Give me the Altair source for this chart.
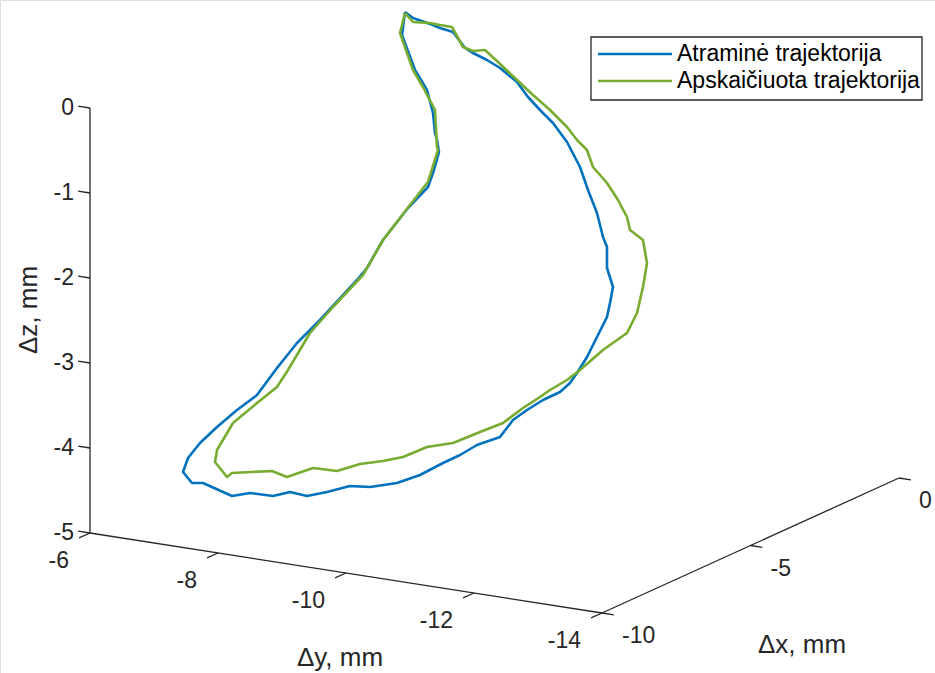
import altair as alt
import pandas as pd

W, H = 935, 673

# ---- axis definitions (3-D data units) ----
x_lim = [-10, 0]
y_lim = [-6, -14]
z_lim = [-5, 0]
x_ticks = [-10, -5, 0]
y_ticks = [-6, -8, -10, -12, -14]
z_ticks = [0, -1, -2, -3, -4, -5]
x_title = "Δx, mm"
y_title = "Δy, mm"
z_title = "Δz, mm"

series_names = ["Atraminė trajektorija", "Apskaičiuota trajektorija"]
series_colors = ["#0072BD", "#77AC30"]

# ---- trajectories, as read from the projected (view-plane) figure ----
ref_h = [405, 413, 433, 440, 453, 465, 473, 487, 500, 517, 528, 540, 553, 567, 580, 588, 597, 603, 607, 607,
         613, 610, 607, 597, 587, 577, 570, 560, 543, 527, 513, 500, 477, 460, 443, 420, 397, 370, 350, 327,
         307, 290, 273, 250, 232, 203, 192, 183, 188, 200, 217, 237, 257, 277, 297, 320, 357, 367, 383, 408,
         428, 434, 439, 437, 435, 433, 427, 415, 402, 405]
ref_v = [12, 18, 25, 28, 32, 48, 53, 60, 68, 82, 97, 110, 123, 142, 167, 190, 213, 237, 247, 268,
         287, 303, 317, 337, 357, 373, 383, 392, 400, 410, 420, 437, 445, 455, 463, 475, 483, 487, 486, 492,
         496, 492, 496, 493, 496, 483, 483, 472, 458, 443, 427, 410, 395, 368, 343, 320, 280, 268, 240, 208,
         187, 170, 152, 140, 133, 113, 90, 70, 35, 12]

est_h = [405, 413, 430, 440, 452, 463, 473, 485, 498, 517, 533, 550, 567, 577, 587, 593, 607, 618, 627, 630,
         643, 647, 643, 637, 627, 603, 580, 567, 550, 540, 523, 503, 480, 453, 427, 403, 383, 360, 337, 313,
         287, 272, 232, 227, 215, 217, 233, 257, 277, 288, 310, 333, 363, 383, 410, 428, 438, 437, 435, 423,
         413, 400, 405]
est_v = [13, 22, 23, 25, 27, 47, 51, 50, 62, 80, 95, 110, 127, 140, 150, 167, 183, 200, 217, 230,
         240, 263, 287, 313, 333, 350, 370, 380, 390, 397, 408, 423, 432, 443, 447, 457, 461, 464, 471, 468,
         477, 471, 473, 477, 462, 450, 423, 403, 387, 370, 333, 307, 275, 240, 205, 182, 150, 147, 110, 87,
         70, 33, 13]

# ---- view (projection of the 3-D box onto the page) ----
ORIGIN = (90.0, 533.0)          # page position of (x=-10, y=-6, z=-5)
EX = (29.7, -13.5)              # page shift per +1 in Δx
EY = (-64.0, -10.0)             # page shift per +1 in Δy
EZ = (0.0, -85.0)               # page shift per +1 in Δz


def proj(x, y, z):
    dx, dy, dz = x - x_lim[0], y - y_lim[0], z - z_lim[0]
    return (ORIGIN[0] + dx * EX[0] + dy * EY[0] + dz * EZ[0],
            ORIGIN[1] + dx * EX[1] + dy * EY[1] + dz * EZ[1])


def unit(v, L):
    n = (v[0] ** 2 + v[1] ** 2) ** 0.5
    return (v[0] / n * L, v[1] / n * L)


TL = 12
segs = []
# axis lines
for a, b in [((x_lim[0], y_lim[0], z_lim[0]), (x_lim[0], y_lim[0], z_lim[1])),
             ((x_lim[0], y_lim[0], z_lim[0]), (x_lim[0], y_lim[1], z_lim[0])),
             ((x_lim[0], y_lim[1], z_lim[0]), (x_lim[1], y_lim[1], z_lim[0]))]:
    p, q = proj(*a), proj(*b)
    segs.append(dict(x1=p[0], y1=p[1], x2=q[0], y2=q[1]))

labels = []
# z ticks (point toward +Δy)
tz = unit(EY, TL)
for z in z_ticks:
    p = proj(x_lim[0], y_lim[0], z)
    segs.append(dict(x1=p[0], y1=p[1], x2=p[0] + tz[0], y2=p[1] + tz[1]))
    labels.append(dict(t=str(z), x=p[0] - 16, y=p[1], al="right"))
# y ticks (point toward -Δx)
ty = unit((-EX[0], -EX[1]), TL)
for y in y_ticks:
    p = proj(x_lim[0], y, z_lim[0])
    segs.append(dict(x1=p[0], y1=p[1], x2=p[0] + ty[0], y2=p[1] + ty[1]))
    labels.append(dict(t=str(y), x=p[0] - 21, y=p[1] + 28, al="right"))
# x ticks (point toward -Δy)
tx = unit((-EY[0], -EY[1]), TL)
for x in x_ticks:
    p = proj(x, y_lim[1], z_lim[0])
    segs.append(dict(x1=p[0], y1=p[1], x2=p[0] + tx[0], y2=p[1] + tx[1]))
    labels.append(dict(t=str(x), x=p[0] + 20, y=p[1] + 23, al="left"))

seg_df = pd.DataFrame(segs)
lab_df = pd.DataFrame(labels)

titles_df = pd.DataFrame([
    dict(t=y_title, x=340, y=658),
    dict(t=x_title, x=802, y=645),
])
ztitle_df = pd.DataFrame([dict(t=z_title, x=29, y=310)])

rows = []
for name, hh, vv in [(series_names[0], ref_h, ref_v), (series_names[1], est_h, est_v)]:
    for i, (a, b) in enumerate(zip(hh, vv)):
        rows.append(dict(series=name, h=a, v=b, i=i))
curve_df = pd.DataFrame(rows)

XS = alt.Scale(domain=[0, W], nice=False, zero=False)
YS = alt.Scale(domain=[H, 0], nice=False, zero=False)
AX = "#262626"
FONT = "Liberation Sans"

axes_layer = alt.Chart(seg_df).mark_rule(color=AX, strokeWidth=1.3).encode(
    x=alt.X("x1:Q", scale=XS, axis=None), y=alt.Y("y1:Q", scale=YS, axis=None),
    x2="x2:Q", y2="y2:Q")


def label_layer(al):
    return alt.Chart(lab_df[lab_df.al == al]).mark_text(
        font=FONT, fontSize=23, color=AX, align=al, baseline="middle").encode(
        x=alt.X("x:Q", scale=XS, axis=None), y=alt.Y("y:Q", scale=YS, axis=None), text="t:N")


titles = alt.Chart(titles_df).mark_text(
    font=FONT, fontSize=26, color=AX, align="center", baseline="middle").encode(
    x=alt.X("x:Q", scale=XS, axis=None), y=alt.Y("y:Q", scale=YS, axis=None), text="t:N")
ztitle = alt.Chart(ztitle_df).mark_text(
    font=FONT, fontSize=26, color=AX, align="center", baseline="middle", angle=270).encode(
    x=alt.X("x:Q", scale=XS, axis=None), y=alt.Y("y:Q", scale=YS, axis=None), text="t:N")

color = alt.Color("series:N", scale=alt.Scale(domain=series_names, range=series_colors), legend=None)

curves = alt.Chart(curve_df).mark_line(strokeWidth=2.6, strokeJoin="round").encode(
    x=alt.X("h:Q", scale=XS, axis=None), y=alt.Y("v:Q", scale=YS, axis=None),
    color=color, order="i:Q")

# ---- legend box ----
leg_box = pd.DataFrame([dict(x1=591, x2=922, y1=37, y2=100)])
leg_items = pd.DataFrame([
    dict(series=series_names[0], x1=598, x2=672, y=54, tx=677),
    dict(series=series_names[1], x1=598, x2=672, y=81, tx=677),
])
legend_rect = alt.Chart(leg_box).mark_rect(fill="white", stroke=AX, strokeWidth=1.3).encode(
    x=alt.X("x1:Q", scale=XS, axis=None), x2="x2:Q",
    y=alt.Y("y1:Q", scale=YS, axis=None), y2="y2:Q")
legend_lines = alt.Chart(leg_items).mark_rule(strokeWidth=2.6).encode(
    x=alt.X("x1:Q", scale=XS, axis=None), x2="x2:Q",
    y=alt.Y("y:Q", scale=YS, axis=None), color=color)
legend_text = alt.Chart(leg_items).mark_text(
    font=FONT, fontSize=23, color="#000000", align="left", baseline="middle").encode(
    x=alt.X("tx:Q", scale=XS, axis=None), y=alt.Y("y:Q", scale=YS, axis=None), text="series:N")

chart = alt.layer(
    axes_layer, label_layer("right"), label_layer("left"), titles, ztitle, curves,
    legend_rect, legend_lines, legend_text
).properties(
    width=W, height=H, padding=0, autosize="none"
).configure_view(stroke=None).configure(background="white")

chart.save("out.html", embed_options={"renderer": "svg", "actions": False})
